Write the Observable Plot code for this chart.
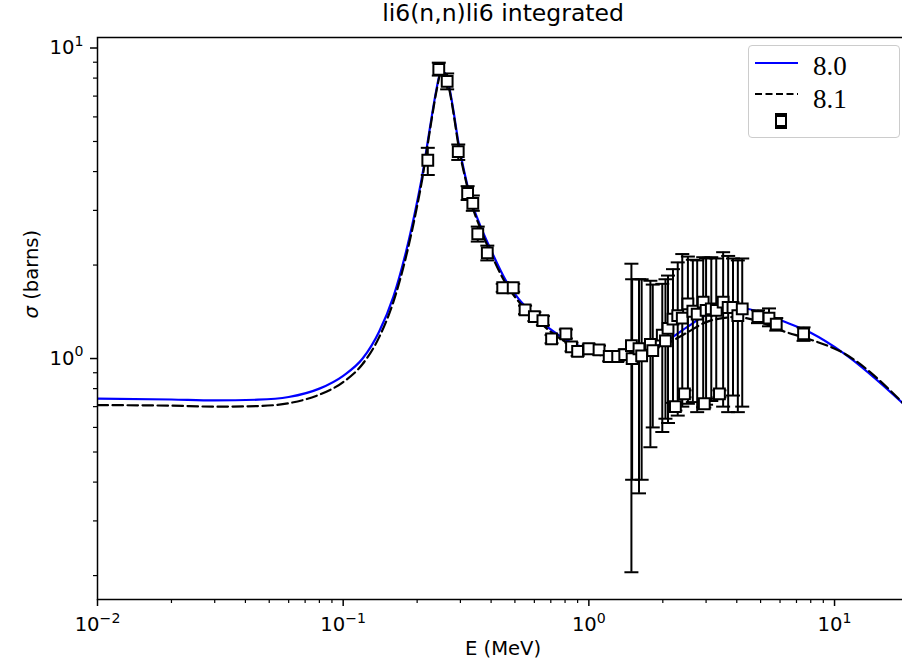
<!DOCTYPE html>
<html>
<head>
<meta charset="utf-8">
<script src="https://cdn.jsdelivr.net/npm/d3@7"></script>
<script src="https://cdn.jsdelivr.net/npm/@observablehq/plot@0.6"></script>
<style>
  body { margin: 0; background: #fff; }
  #wrap { position: relative; width: 902px; height: 662px; overflow: hidden; }
  #wrap svg.plot { position: absolute; left: 0; top: 0; }
  #legend { position: absolute; left: 748px; top: 45px; width: 152px; height: 93px;
            border: 1px solid #cccccc; border-radius: 4px; background: rgba(255,255,255,0.85);
            box-sizing: border-box; }
</style>
</head>
<body>
<div id="wrap"></div>
<script>
// ---- model curves (energy in MeV, cross section in barns)
const energyGrid = [0.01, 0.02, 0.03, 0.045, 0.06, 0.08, 0.1, 0.12, 0.14, 0.16, 0.18, 0.2, 0.21, 0.22, 0.23, 0.24, 0.25, 0.26, 0.27, 0.28, 0.294, 0.318, 0.333, 0.36, 0.395, 0.46, 0.52, 0.6, 0.69, 0.84, 1.0, 1.3, 1.6, 2.0, 2.5, 3.0, 3.5, 4.0, 5.0, 6.0, 8.0, 10.8, 20];
const sigma80 = [0.743, 0.738, 0.733, 0.737, 0.752, 0.80, 0.88, 1.0, 1.22, 1.58, 2.2, 3.2, 3.9, 4.9, 6.1, 7.4, 8.4, 8.3, 7.5, 6.4, 5.0, 3.7, 3.2, 2.7, 2.28, 1.78, 1.55, 1.38, 1.25, 1.13, 1.07, 1.02, 1.04, 1.12, 1.26, 1.38, 1.44, 1.46, 1.41, 1.33, 1.21, 1.045, 0.69];
const sigma81 = [0.708, 0.705, 0.700, 0.703, 0.718, 0.765, 0.84, 0.96, 1.17, 1.52, 2.12, 3.1, 3.8, 4.8, 6.0, 7.3, 8.3, 8.2, 7.4, 6.3, 4.9, 3.65, 3.15, 2.65, 2.22, 1.74, 1.52, 1.36, 1.23, 1.11, 1.05, 1.01, 1.03, 1.10, 1.21, 1.31, 1.35, 1.36, 1.31, 1.235, 1.15, 1.045, 0.69];

// ---- experimental points
const expE     = [0.221, 0.245, 0.265, 0.294, 0.321, 0.337, 0.353, 0.386, 0.446, 0.492, 0.55, 0.60, 0.65, 0.705, 0.806, 0.85, 0.90, 1.0, 1.10, 1.21, 1.31, 1.40,
                  1.49, 1.50, 1.60, 1.64, 1.78, 1.82, 1.99, 2.05, 2.10, 2.20, 2.30, 2.40, 2.53, 2.65, 2.76, 2.92, 3.00, 3.15, 3.30, 3.52, 3.69, 3.86, 4.04, 4.21,
                  2.25, 2.45, 2.95, 3.40,
                  4.88, 5.41, 5.79, 7.48];
const expSigma = [4.35, 8.54, 7.81, 4.64, 3.40, 3.16, 2.52, 2.19, 1.69, 1.69, 1.435, 1.365, 1.325, 1.157, 1.20, 1.09, 1.055, 1.075, 1.066, 1.015, 1.015, 1.03,
                  1.10, 1.00, 1.075, 1.02, 1.11, 1.06, 1.19, 1.14, 1.25, 1.34, 1.375, 1.35, 1.50, 1.42, 1.39, 1.52, 1.43, 1.445, 1.43, 1.52, 1.46, 1.46, 1.375, 1.445,
                  0.70, 0.77, 0.715, 0.77,
                  1.365, 1.35, 1.29, 1.20];
const expLo    = [3.90, 8.15, 7.36, 4.36, 3.24, 2.99, 2.38, 2.07, 1.64, 1.64, 1.39, 1.32, 1.28, 1.12, 1.16, 1.055, 1.02, 1.04, 1.03, 0.98, 0.98, 0.99,
                  0.205, 0.407, 0.368, 0.407, 0.518, 0.60, 0.58, 0.64, 0.62, 0.72, 0.655, 0.70, 0.715, 0.724, 0.672, 0.697, 0.71, 0.73, 0.742, 0.70, 0.672, 0.76, 0.672, 0.70,
                  0.68, 0.75, 0.695, 0.75,
                  1.30, 1.27, 1.23, 1.14];
const expHi    = [4.77, 8.97, 8.28, 4.89, 3.59, 3.35, 2.66, 2.31, 1.74, 1.74, 1.48, 1.41, 1.37, 1.19, 1.24, 1.125, 1.09, 1.11, 1.10, 1.05, 1.05, 1.07,
                  2.02, 1.80, 1.80, 1.80, 1.78, 1.73, 1.74, 1.80, 1.85, 1.94, 2.04, 2.17, 2.13, 2.08, 2.07, 2.12, 2.10, 2.12, 2.10, 2.20, 2.14, 2.10, 2.07, 2.10,
                  0.72, 0.79, 0.735, 0.79,
                  1.43, 1.45, 1.35, 1.26];

// ---- axes
const xMajor = [0.01, 0.1, 1, 10];
const yMajor = [1, 10];
const xMinor = [];
for (const d of [0.01, 0.1, 1, 10]) for (let k = 2; k <= 9; k++) { const v = d * k; if (v <= 20) xMinor.push(v); }
const yMinor = [];
for (const d of [0.1, 1]) for (let k = 2; k <= 9; k++) { const v = d * k; if (v >= 0.1675 && v <= 10.81) yMinor.push(v); }

const titleText = "li6(n,n)li6 integrated";
const xLabel = "E (MeV)";
const yLabel = "σ (barns)";
const legendLabels = ["8.0", "8.1"];

const models = energyGrid.map((E, i) => ({E, s80: sigma80[i], s81: sigma81[i]}));
const exp = expE.map((E, i) => ({E, s: expSigma[i], lo: expLo[i], hi: expHi[i]}));

const capSymbol = {
  draw(ctx, size) {
    const r = Math.sqrt(size / Math.PI);
    ctx.moveTo(-r, 0);
    ctx.lineTo(r, 0);
  }
};
const sup = d => "10^" + Math.round(Math.log10(d));

const chart = Plot.plot({
  width: 902,
  height: 662,
  marginLeft: 97,
  marginRight: -6,
  marginTop: 37,
  marginBottom: 63,
  style: {fontFamily: "DejaVu Sans", background: "white", fontSize: "19.6px", color: "black"},
  x: {type: "log", domain: [0.01, 20], axis: null},
  y: {type: "log", domain: [0.1675, 10.81], axis: null},
  marks: [
    Plot.line(models, {x: "E", y: "s80", stroke: "#0000ff", strokeWidth: 2.2, curve: "monotone-x", clip: true}),
    Plot.line(models, {x: "E", y: "s81", stroke: "black", strokeWidth: 2.2, strokeDasharray: "10.5,4.5", curve: "monotone-x", clip: true}),
    Plot.ruleX(exp, {x: "E", y1: "lo", y2: "hi", stroke: "black", strokeWidth: 2}),
    Plot.dot(exp, {x: "E", y: "lo", symbol: capSymbol, r: 7, fill: "none", stroke: "black", strokeWidth: 2}),
    Plot.dot(exp, {x: "E", y: "hi", symbol: capSymbol, r: 7, fill: "none", stroke: "black", strokeWidth: 2}),
    Plot.dot(exp, {x: "E", y: "s", symbol: "square", r: 6.1, fill: "white", stroke: "black", strokeWidth: 2}),
    Plot.axisX({ticks: xMajor, tickSize: 7, tickPadding: 11, tickFormat: sup, strokeWidth: 1.5, fontSize: 19.6, label: null}),
    Plot.axisX({ticks: xMinor, tickSize: 4, tickFormat: () => "", strokeWidth: 1.2, label: null}),
    Plot.axisY({ticks: yMajor, tickSize: 7, tickPadding: 7, tickFormat: sup, strokeWidth: 1.5, fontSize: 19.6, label: null}),
    Plot.axisY({ticks: yMinor, tickSize: 4, tickFormat: () => "", strokeWidth: 1.2, label: null}),
    Plot.frame({stroke: "black", strokeWidth: 1.5}),
    Plot.text([titleText], {frameAnchor: "top", lineAnchor: "bottom", dy: -17, fontSize: 23.5}),
    Plot.text([xLabel], {frameAnchor: "bottom", lineAnchor: "bottom", dy: 55, fontSize: 19.6}),
    Plot.text([yLabel], {frameAnchor: "left", rotate: -90, dx: -66, fontSize: 19.6})
  ]
});

// superscripts for the 10^n tick labels, italic sigma
const NS = "http://www.w3.org/2000/svg";
chart.querySelectorAll("text").forEach(t => {
  const m = t.textContent.match(/^10\^(.+)$/);
  if (m) {
    t.textContent = "10";
    const s = document.createElementNS(NS, "tspan");
    s.setAttribute("dy", "-0.6em");
    s.setAttribute("font-size", "72%");
    s.textContent = m[1].replace("-", "\u2212");
    t.appendChild(s);
  } else if (t.textContent === yLabel) {
    t.textContent = "";
    const a = document.createElementNS(NS, "tspan");
    a.setAttribute("font-style", "italic");
    a.textContent = "σ";
    const b = document.createElementNS(NS, "tspan");
    b.textContent = " (barns)";
    t.appendChild(a); t.appendChild(b);
  }
});

const wrap = document.getElementById("wrap");
wrap.appendChild(chart);

// legend
const legend = document.createElement("div");
legend.id = "legend";
legend.innerHTML = `
<svg width="152" height="93" style="position:absolute;left:-1px;top:-1px">
  <line x1="7" x2="50" y1="18" y2="18" stroke="#0000ff" stroke-width="2.2"/>
  <line x1="7" x2="50" y1="49" y2="49" stroke="black" stroke-width="2.2" stroke-dasharray="7,3.5"/>
  <line x1="33" x2="33" y1="69" y2="83" stroke="black" stroke-width="2"/>
  <line x1="27" x2="39" y1="69" y2="69" stroke="black" stroke-width="2"/>
  <line x1="27" x2="39" y1="83" y2="83" stroke="black" stroke-width="2"/>
  <rect x="28" y="71" width="10" height="10" fill="white" stroke="black" stroke-width="2"/>
  <text x="65" y="30" font-family="Liberation Serif" font-size="27">${legendLabels[0]}</text>
  <text x="65" y="63" font-family="Liberation Serif" font-size="27">${legendLabels[1]}</text>
</svg>`;
wrap.appendChild(legend);
</script>
</body>
</html>
